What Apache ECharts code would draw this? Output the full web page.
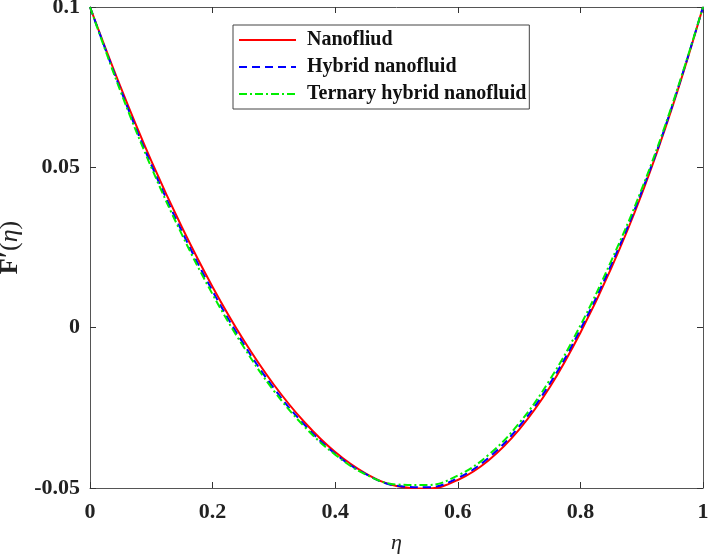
<!DOCTYPE html>
<html>
<head>
<meta charset="utf-8">
<script src="https://cdn.jsdelivr.net/npm/echarts@6/dist/echarts.min.js"></script>
<style>
  html, body { margin: 0; padding: 0; background: #fff; }
  #chart { width: 708px; height: 555px; }
</style>
</head>
<body>
<div id="chart"></div>
<script>
// eta values (x axis)
const eta = [0, 0.05, 0.1, 0.15, 0.2, 0.25, 0.3, 0.35, 0.4, 0.45, 0.5,
  0.55, 0.6, 0.65, 0.7, 0.75, 0.8, 0.85, 0.9, 0.95, 1]
// F'(eta)
const nanofluid = [0.1, 0.0750, 0.0520, 0.0313, 0.0127, -0.0037, -0.0178, -0.0295, -0.0388, -0.0455, -0.0494,
  -0.0502, -0.0475, -0.0414, -0.0318, -0.0186, -0.0016, 0.0184, 0.0416, 0.0688, 0.1]
const hybrid = [0.1, 0.0742, 0.0508, 0.0300, 0.0114, -0.0049, -0.0189, -0.0303, -0.0393, -0.0457, -0.0493,
  -0.0498, -0.0469, -0.0406, -0.0308, -0.0175, -0.0005, 0.0195, 0.0424, 0.0693, 0.1]
const ternary = [0.1, 0.0736, 0.0500, 0.0290, 0.0104, -0.0058, -0.0197, -0.0309, -0.0396, -0.0458, -0.0489,
  -0.0491, -0.0461, -0.0397, -0.0298, -0.0163, 0.0007, 0.0207, 0.0432, 0.0697, 0.1]
const seriesNames = ['Nanofliud', 'Hybrid nanofluid', 'Ternary hybrid nanofluid']
const yTicks = [-0.05, 0, 0.05, 0.1]

const pairs = (ys) => eta.map((x, i) => [x, ys[i]])

const axisColor = '#555'
const labelFont = {
  fontFamily: 'Liberation Serif',
  fontWeight: 'bold',
  fontSize: 22,
  color: '#222'
}
const tickStyle = { show: true, inside: true, length: 6, lineStyle: { color: '#333', width: 1 } }
const lineStyleAxis = { show: true, onZero: false, lineStyle: { color: axisColor } }

const chart = echarts.init(document.getElementById('chart'))
chart.setOption({
  animation: false,
  grid: { left: 90, right: 5, top: 7, bottom: 67, containLabel: false, outerBoundsMode: 'none' },
  legend: {
    data: seriesNames,
    orient: 'vertical',
    left: 233,
    top: 25,
    padding: [5, 3, 5, 5],
    itemWidth: 57,
    itemHeight: 14,
    itemGap: 7,
    borderColor: '#444',
    borderWidth: 1,
    backgroundColor: '#fff',
    itemStyle: { opacity: 0 },
    textStyle: {
      fontFamily: 'Liberation Serif',
      fontWeight: 'bold',
      fontSize: 20,
      color: '#111',
      padding: [0, 0, 0, 6]
    }
  },
  xAxis: [{
    type: 'value',
    min: 0,
    max: 1,
    interval: 0.2,
    name: 'η',
    nameLocation: 'middle',
    nameGap: 44,
    nameTextStyle: {
      fontFamily: 'Liberation Serif',
      fontStyle: 'italic',
      fontSize: 22,
      color: '#222'
    },
    axisLine: lineStyleAxis,
    axisTick: tickStyle,
    splitLine: { show: false },
    axisLabel: Object.assign({ margin: 13, formatter: (v) => String(+v.toFixed(1)) }, labelFont)
  }, {
    type: 'value',
    position: 'top',
    min: 0,
    max: 1,
    interval: 0.2,
    axisLine: lineStyleAxis,
    axisTick: tickStyle,
    splitLine: { show: false },
    axisLabel: { show: false }
  }],
  yAxis: [{
    type: 'value',
    min: -0.05,
    max: 0.1,
    interval: 0.05,
    name: '{f|F′}{p|(}{i|η}{p|)}',
    nameLocation: 'middle',
    nameGap: 62,
    nameTextStyle: {
      rich: {
        f: { fontFamily: 'Liberation Serif', fontWeight: 'bold', fontSize: 26, color: '#222' },
        p: { fontFamily: 'Liberation Serif', fontSize: 26, color: '#222' },
        i: { fontFamily: 'Liberation Serif', fontStyle: 'italic', fontSize: 26, color: '#222' }
      }
    },
    axisLine: lineStyleAxis,
    axisTick: tickStyle,
    splitLine: { show: false },
    axisLabel: Object.assign({
      margin: 10,
      formatter: (v) => {
        const t = yTicks.find((y) => Math.abs(y - v) < 1e-9)
        return t === undefined ? '' : String(t)
      }
    }, labelFont)
  }, {
    type: 'value',
    position: 'right',
    min: -0.05,
    max: 0.1,
    interval: 0.05,
    axisLine: lineStyleAxis,
    axisTick: tickStyle,
    splitLine: { show: false },
    axisLabel: { show: false }
  }],
  series: [{
    name: seriesNames[0],
    type: 'line',
    data: pairs(nanofluid),
    smooth: 0.4,
    symbol: 'none',
    z: 3,
    lineStyle: { color: '#ff0000', width: 2 },
    itemStyle: { color: '#ff0000' }
  }, {
    name: seriesNames[1],
    type: 'line',
    data: pairs(hybrid),
    smooth: 0.4,
    symbol: 'none',
    z: 4,
    lineStyle: { color: '#0000ff', width: 2, type: [8, 5] },
    itemStyle: { color: '#0000ff' }
  }, {
    name: seriesNames[2],
    type: 'line',
    data: pairs(ternary),
    smooth: 0.4,
    symbol: 'none',
    z: 5,
    lineStyle: { color: '#00ee00', width: 2, type: [8, 3, 2, 3] },
    itemStyle: { color: '#00ee00' }
  }]
})
</script>
</body>
</html>
